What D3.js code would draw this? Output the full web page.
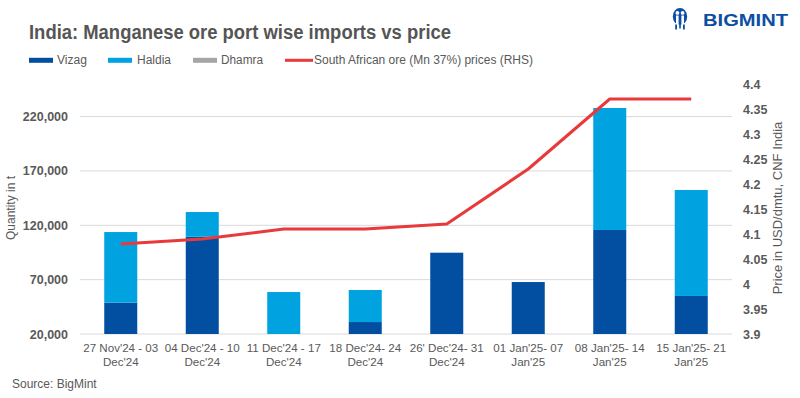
<!DOCTYPE html>
<html><head><meta charset="utf-8">
<script src="https://cdn.jsdelivr.net/npm/d3@7"></script>
<style>
body{margin:0;background:#fff;}
text{font-family:"Liberation Sans",Arial,sans-serif;}
</style></head>
<body><svg id="c" width="800" height="398"></svg>
<script>
const categories = [
  ["27 Nov'24 - 03","Dec'24"],
  ["04 Dec'24 - 10","Dec'24"],
  ["11 Dec'24 - 17","Dec'24"],
  ["18 Dec'24- 24","Dec'24"],
  ["26' Dec'24- 31","Dec'24"],
  ["01 Jan'25- 07","Jan'25"],
  ["08 Jan'25- 14","Jan'25"],
  ["15 Jan'25- 21","Jan'25"]
];
const vizag  = [48800, 109500, 0, 31000, 94800, 67800, 115700, 55000];
const haldia = [65000, 22700, 58600, 29500, 0, 0, 112200, 97500];
const dhamra = [0, 0, 0, 0, 0, 0, 0, 0];
const price  = [4.08, 4.09, 4.11, 4.11, 4.12, 4.23, 4.37, 4.37];
const leftTicks  = [20000, 70000, 120000, 170000, 220000];
const rightTicks = [3.9, 3.95, 4, 4.05, 4.1, 4.15, 4.2, 4.25, 4.3, 4.35, 4.4];

const colors = {vizag:"#024ea0", haldia:"#00a3e0", dhamra:"#a5a5a5", line:"#e8393b"};
const txt = "#595959";
const svg = d3.select("#c");
const L = 80, R = 732, T = 84, B = 334;

const x = d3.scaleBand().domain(d3.range(categories.length)).range([L, R]).paddingInner(0.595).paddingOuter(0.2975);
const yL = d3.scaleLinear().domain([20000, 250000]).range([B, T]);
const yR = d3.scaleLinear().domain([3.9, 4.4]).range([B, T]);

function fit(sel, w){ sel.attr("textLength", w).attr("lengthAdjust","spacingAndGlyphs"); return sel; }

// title
fit(svg.append("text").attr("x", 29).attr("y", 39).attr("font-size", 19.5).attr("font-weight", "bold")
  .attr("fill", "#555555").text("India: Manganese ore port wise imports vs price"), 422);

// logo
const blue = "#0b4ea2";
const lg = svg.append("g").attr("transform","translate(680,16.5)");
lg.append("ellipse").attr("rx",7.2).attr("ry",8.5).attr("fill",blue);
lg.append("circle").attr("cx",-2.6).attr("cy",-3.6).attr("r",1.9).attr("fill","#fff");
lg.append("circle").attr("cx",2.6).attr("cy",-3.6).attr("r",1.9).attr("fill","#fff");
lg.append("rect").attr("x",-4).attr("y",-1).attr("width",2.6).attr("height",10).attr("fill","#fff");
lg.append("rect").attr("x",1.4).attr("y",-1).attr("width",2.6).attr("height",10).attr("fill","#fff");
lg.append("rect").attr("x",-4.8).attr("y",8).attr("width",1.8).attr("height",5).attr("fill",blue);
lg.append("rect").attr("x",3).attr("y",8).attr("width",1.8).attr("height",5).attr("fill",blue);
lg.append("rect").attr("x",-0.8).attr("y",8).attr("width",1.6).attr("height",4).attr("fill",blue);
fit(svg.append("text").attr("x", 703).attr("y", 26).attr("font-size", 16.5).attr("font-weight","bold")
  .attr("fill",blue).text("BIGMINT"), 85);

// legend
const legend = [
  {name:"Vizag", c:colors.vizag, x:29, tx:57, w:30, type:"rect"},
  {name:"Haldia", c:colors.haldia, x:108, tx:137, w:34, type:"rect"},
  {name:"Dhamra", c:colors.dhamra, x:193, tx:221, w:42, type:"rect"},
  {name:"South African ore (Mn 37%) prices (RHS)", c:colors.line, x:285, tx:314, w:219, type:"line"}
];
legend.forEach(d => {
  if (d.type === "rect") svg.append("rect").attr("x", d.x).attr("y", 57.8).attr("width", 24).attr("height", 5).attr("fill", d.c);
  else svg.append("rect").attr("x", d.x).attr("y", 58.8).attr("width", 28).attr("height", 3).attr("fill", d.c);
  fit(svg.append("text").attr("x", d.tx).attr("y", 64).attr("font-size", 12.5).attr("fill", txt).text(d.name), d.w);
});

// gridlines
svg.append("g").selectAll("line").data(leftTicks).join("line")
  .attr("x1", L).attr("x2", R).attr("y1", d => yL(d)).attr("y2", d => yL(d))
  .attr("stroke", "#d9d9d9").attr("stroke-width", 1);

// left axis
const axL = svg.append("g").attr("transform", `translate(${L},0)`)
  .call(d3.axisLeft(yL).tickValues(leftTicks).tickFormat(d3.format(",")).tickSize(0).tickPadding(12));
axL.select(".domain").remove();
axL.selectAll("text").attr("font-size", 12.5).attr("font-weight","bold").attr("fill", txt)
  .style("font-family","'Liberation Sans',Arial,sans-serif");

// right axis
const axR = svg.append("g").attr("transform", `translate(${R},0)`)
  .call(d3.axisRight(yR).tickValues(rightTicks).tickFormat(d => String(+d.toFixed(2))).tickSize(0).tickPadding(11));
axR.select(".domain").remove();
axR.selectAll("text").attr("font-size", 12.5).attr("font-weight","bold").attr("fill", txt)
  .style("font-family","'Liberation Sans',Arial,sans-serif");

// axis titles
svg.append("text").attr("transform", `translate(15,208) rotate(-90)`).attr("text-anchor","middle")
  .attr("font-size", 12).attr("fill", txt).text("Quantity in t");
svg.append("text").attr("transform", `translate(782,208) rotate(-90)`).attr("text-anchor","middle")
  .attr("font-size", 13).attr("fill", txt).text("Price in USD/dmtu, CNF India");

// bars
svg.append("defs").append("clipPath").attr("id","clip").append("rect")
  .attr("x", L).attr("y", T - 20).attr("width", R - L).attr("height", B - T + 20);
const stackData = categories.map((c,i) => ({i, vizag:vizag[i], haldia:haldia[i], dhamra:dhamra[i]}));
const series = d3.stack().keys(["vizag","haldia","dhamra"])(stackData);
const gb = svg.append("g").attr("clip-path","url(#clip)");
series.forEach(s => {
  gb.append("g").attr("fill", colors[s.key]).selectAll("rect").data(s).join("rect")
    .attr("x", d => x(d.data.i)).attr("width", x.bandwidth())
    .attr("y", d => yL(d[1])).attr("height", d => Math.max(0, yL(d[0]) - yL(d[1])));
});

// line
const line = d3.line().x((d,i) => x(i) + x.bandwidth()/2).y(d => yR(d));
svg.append("path").datum(price).attr("d", line).attr("fill","none")
  .attr("stroke", colors.line).attr("stroke-width", 3).attr("stroke-linejoin","round");

// x labels
const xl = svg.append("g");
categories.forEach((c,i) => {
  const cx = x(i) + x.bandwidth()/2;
  const t = xl.append("text").attr("text-anchor","middle").attr("font-size", 11.6).attr("fill", txt);
  t.append("tspan").attr("x", cx).attr("y", 351.5).text(c[0]);
  t.append("tspan").attr("x", cx).attr("y", 365.5).text(c[1]);
});

// source
svg.append("text").attr("x", 12).attr("y", 388).attr("font-size", 12).attr("fill", txt).text("Source: BigMint");
</script></body></html>
